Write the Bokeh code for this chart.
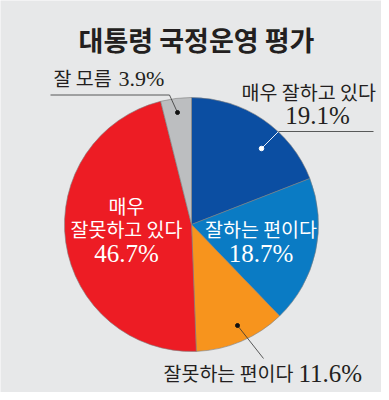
import numpy as np
from bokeh.plotting import figure
from bokeh.models import Range1d, ColumnDataSource
from bokeh.core.properties import value
from bokeh.embed import file_html
from bokeh.resources import INLINE

# ---- data ----
title = "대통령 국정운영 평가"
categories = ["매우 잘하고 있다", "잘하는 편이다", "잘못하는 편이다", "매우 잘못하고 있다", "잘 모름"]
values = [19.1, 18.7, 11.6, 46.7, 3.9]
colors = ["#0b4ea2", "#0a7bc4", "#f7941d", "#ed1c24", "#bcbec0"]
pct = [f"{v}%" for v in values]

W, H = 381, 392
KR = value("Noto Sans CJK KR")
SERIF = value("Liberation Serif")
DARK = "#231f20"
KS = "19.5px"
PS = "25px"

p = figure(width=W, height=H, x_range=Range1d(0, W), y_range=Range1d(0, H),
           output_backend="svg", toolbar_location=None, min_border=0)
p.axis.visible = False
p.grid.visible = False
p.outline_line_color = None
p.background_fill_color = "#e7e8e9"
p.border_fill_color = "#e7e8e9"


def X(rx):
    return rx


def Y(ry):
    return H - ry


cx, cy, R = X(191), Y(224), 127

cum = np.cumsum([0] + values) / 100.0
start = np.pi / 2 - 2 * np.pi * cum[:-1]
end = np.pi / 2 - 2 * np.pi * cum[1:]
src = ColumnDataSource(dict(start=start, end=end, color=colors, cat=categories, val=values))
p.wedge(x=cx, y=cy, radius=R, start_angle="start", end_angle="end", direction="clock",
        fill_color="color", line_color="#7d7d7d", line_width=0.6, source=src)

# ---- title ----
p.text(x=[X(196)], y=[Y(38.5)], text=[title], text_font=KR, text_font_size="27px",
       text_font_style="bold", text_align="center", text_baseline="middle", text_color=DARK)

# ---- leader lines ----
p.line(x=[X(50), X(169), X(177)], y=[Y(94.5), Y(94.5), Y(112)], line_color="#333333", line_width=0.8)
p.scatter(x=[X(177)], y=[Y(112)], size=4, color="#111111")
p.line(x=[X(261), X(278)], y=[Y(148), Y(131)], line_color="white", line_width=0.9)
p.line(x=[X(278), X(373)], y=[Y(131), Y(131)], line_color="#333333", line_width=0.8)
p.scatter(x=[X(261)], y=[Y(148)], size=4.5, color="white")
p.line(x=[X(237), X(263)], y=[Y(325), Y(358)], line_color="#333333", line_width=0.8)
p.scatter(x=[X(237)], y=[Y(325)], size=4, color="#111111")

# ---- labels ----
# 잘 모름 3.9%
p.text(x=[X(53)], y=[Y(77)], text=[categories[4]], text_font=KR, text_font_size=KS,
       text_align="left", text_baseline="middle", text_color=DARK)
p.text(x=[X(118)], y=[Y(78)], text=[pct[4]], text_font=SERIF, text_font_size="22px",
       text_align="left", text_baseline="middle", text_color=DARK)

# 매우 잘하고 있다 19.1%
p.text(x=[X(241)], y=[Y(91)], text=[categories[0]], text_font=KR, text_font_size=KS,
       text_align="left", text_baseline="middle", text_color=DARK)
p.text(x=[X(317)], y=[Y(114.5)], text=[pct[0]], text_font=SERIF, text_font_size=PS,
       text_align="center", text_baseline="middle", text_color=DARK)

# 잘하는 편이다 18.7%
p.text(x=[X(260.5)], y=[Y(228)], text=[categories[1]], text_font=KR, text_font_size=KS,
       text_align="center", text_baseline="middle", text_color="white")
p.text(x=[X(260.5)], y=[Y(252.5)], text=[pct[1]], text_font=SERIF, text_font_size=PS,
       text_align="center", text_baseline="middle", text_color="white")

# 매우 / 잘못하고 있다 46.7%
l1, l2 = categories[3].split(" ", 1)
p.text(x=[X(126)], y=[Y(205)], text=[l1], text_font=KR, text_font_size=KS,
       text_align="center", text_baseline="middle", text_color="white")
p.text(x=[X(126)], y=[Y(228)], text=[l2], text_font=KR, text_font_size=KS,
       text_align="center", text_baseline="middle", text_color="white")
p.text(x=[X(126)], y=[Y(253)], text=[pct[3]], text_font=SERIF, text_font_size=PS,
       text_align="center", text_baseline="middle", text_color="white")

# 잘못하는 편이다 11.6%
p.text(x=[X(163)], y=[Y(372)], text=[categories[2]], text_font=KR, text_font_size=KS,
       text_align="left", text_baseline="middle", text_color=DARK)
p.text(x=[X(298)], y=[Y(372.5)], text=[pct[2]], text_font=SERIF, text_font_size=PS,
       text_align="left", text_baseline="middle", text_color=DARK)

open("out.html", "w").write(file_html(p, INLINE))
